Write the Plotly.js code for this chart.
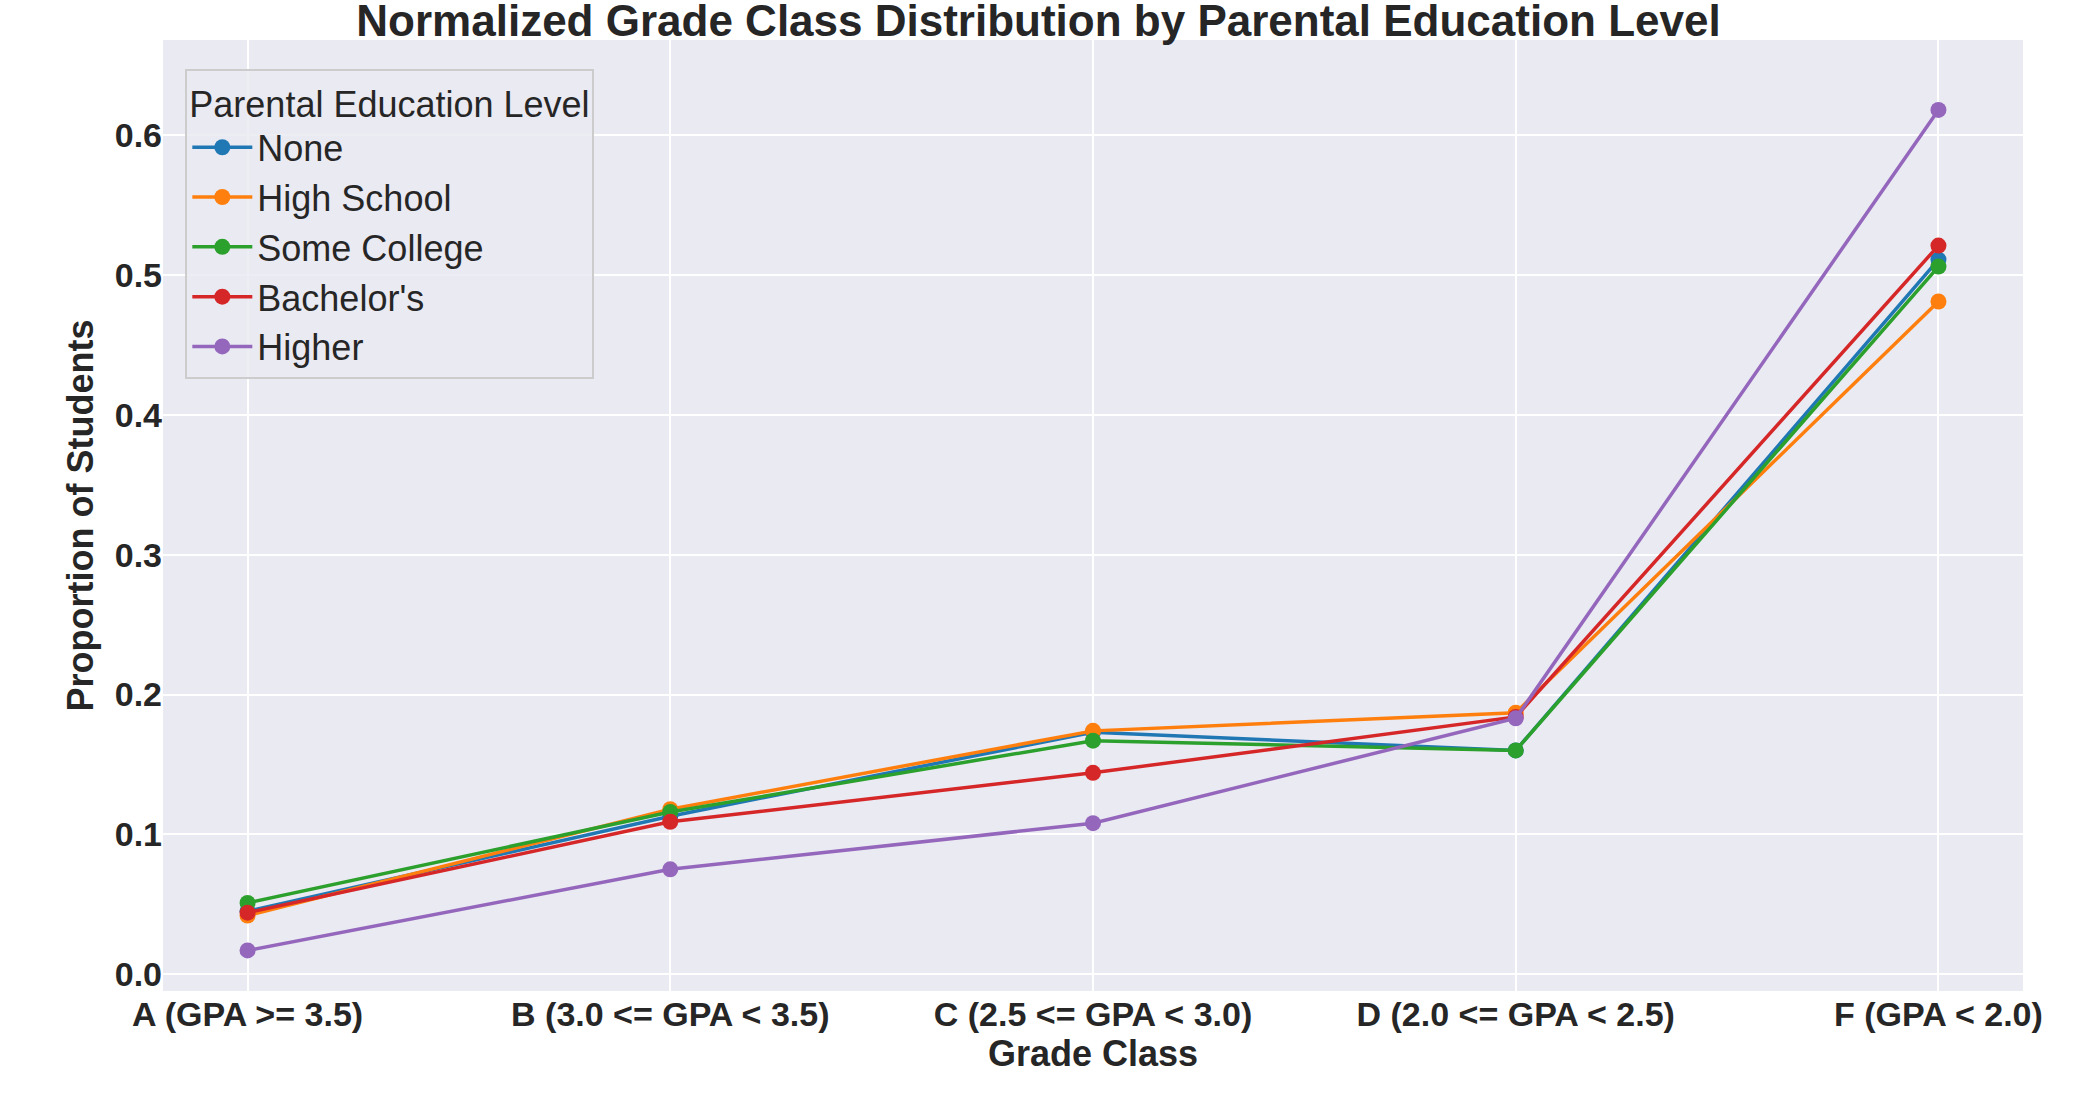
<!DOCTYPE html>
<html>
<head>
<meta charset="utf-8">
<script src="https://cdn.plot.ly/plotly-3.0.1.min.js"></script>
<style>
  body { margin: 0; background: #fff; }
  #plot { width: 2077px; height: 1117px; }
</style>
</head>
<body>
<div id="plot"></div>
<script>
const gradeClasses = ['A (GPA >= 3.5)', 'B (3.0 <= GPA < 3.5)', 'C (2.5 <= GPA < 3.0)', 'D (2.0 <= GPA < 2.5)', 'F (GPA < 2.0)']
const educationLevels = ['None', 'High School', 'Some College', "Bachelor's", 'Higher']
const colors = ['#1f77b4', '#ff7f0e', '#2ca02c', '#d62728', '#9467bd']

const noneVals = [0.045, 0.113, 0.173, 0.160, 0.511]
const highSchoolVals = [0.042, 0.118, 0.174, 0.187, 0.481]
const someCollegeVals = [0.051, 0.116, 0.167, 0.160, 0.506]
const bachelorsVals = [0.044, 0.109, 0.144, 0.184, 0.521]
const higherVals = [0.017, 0.075, 0.108, 0.183, 0.618]

const seriesVals = [noneVals, highSchoolVals, someCollegeVals, bachelorsVals, higherVals]

const font = 'Liberation Sans, Arial, sans-serif'

const traces = educationLevels.map((name, i) => ({
  x: gradeClasses,
  y: seriesVals[i],
  name: name,
  type: 'scatter',
  mode: 'lines+markers',
  line: { color: colors[i], width: 3.5 },
  marker: { color: colors[i], size: 16 }
}))

Plotly.newPlot('plot', traces, {
  width: 2077,
  height: 1117,
  margin: { l: 163, r: 54, t: 40, b: 126 },
  paper_bgcolor: '#ffffff',
  plot_bgcolor: '#eaeaf2',
  font: { family: font, color: '#262626' },
  title: {
    text: '<b>Normalized Grade Class Distribution by Parental Education Level</b>',
    font: { size: 44 }, x: 0.5, y: 0.995, yanchor: 'top'
  },
  xaxis: {
    title: { text: '<b>Grade Class</b>', font: { size: 36 }, standoff: 4 },
    tickfont: { size: 34 },
    tickprefix: '<b>', ticksuffix: '</b>',
    showgrid: true, gridcolor: '#ffffff', gridwidth: 2,
    zeroline: false, range: [-0.2, 4.2]
  },
  yaxis: {
    title: { text: '<b>Proportion of Students</b>', font: { size: 36 }, standoff: 10 },
    tickfont: { size: 34 },
    tickprefix: '<b>', ticksuffix: '</b>',
    tickformat: '.1f', dtick: 0.1,
    showgrid: true, gridcolor: '#ffffff', gridwidth: 2,
    zeroline: false, range: [-0.012, 0.668]
  },
  legend: {
    title: { text: 'Parental Education Level', font: { size: 36 } },
    font: { size: 36 },
    itemwidth: 60,
    x: 0.012, y: 0.97, xanchor: 'left', yanchor: 'top',
    bgcolor: 'rgba(234,234,242,0.85)', bordercolor: '#cccccc', borderwidth: 2
  },
  showlegend: true
}, { displayModeBar: false })
</script>
</body>
</html>
